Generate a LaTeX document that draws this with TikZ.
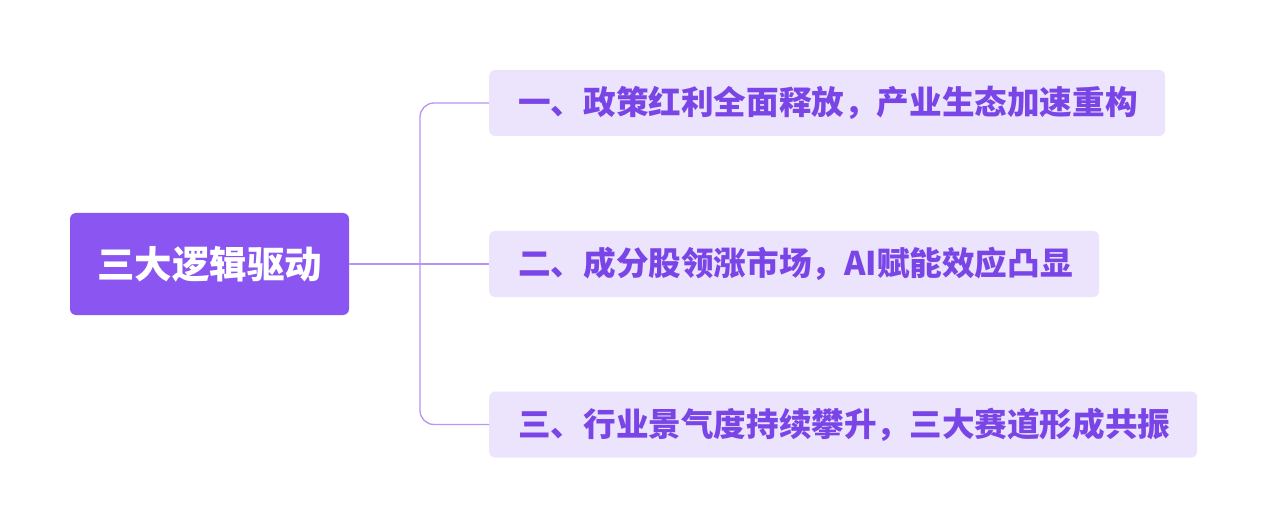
\documentclass[tikz,border=0pt]{standalone}
\usepackage{fontspec}
\newfontfamily\cjk{Noto Sans CJK SC}
\definecolor{rootc}{HTML}{8A55F0}
\definecolor{leafc}{HTML}{ECE3FC}
\definecolor{txtc}{HTML}{7A45E6}
\definecolor{linec}{HTML}{B894F5}
\begin{document}
\begin{tikzpicture}[x=1pt,y=-1pt,
  rootbox/.style={fill=rootc,rounded corners=6pt,text=white,font=\cjk\bfseries\fontsize{37.5}{40}\selectfont,minimum width=279pt,minimum height=102pt,inner sep=0pt},
  leafbox/.style={fill=leafc,rounded corners=6pt,text=txtc,font=\cjk\bfseries\fontsize{32.6}{35}\selectfont,minimum height=66pt,inner xsep=29pt,inner ysep=0pt,anchor=west,align=left},
  conn/.style={draw=linec,line width=1.3pt,rounded corners=14pt}]
\useasboundingbox (0,0) rectangle (1268,529);
\node[rootbox] (r) at (209.5,264) {三大逻辑驱动};
\node[leafbox,text width=618pt] (a) at (489,103) {一、政策红利全面释放，产业生态加速重构};
\node[leafbox,text width=552pt] (b) at (489,264) {二、成分股领涨市场，AI赋能效应凸显};
\node[leafbox,text width=650pt] (c) at (489,424.5) {三、行业景气度持续攀升，三大赛道形成共振};
\coordinate (j) at (420,264);
\draw[conn] (r.east) -- (b.west);
\draw[conn] (a.west) -| (j) |- (c.west);
\end{tikzpicture}
\end{document}
